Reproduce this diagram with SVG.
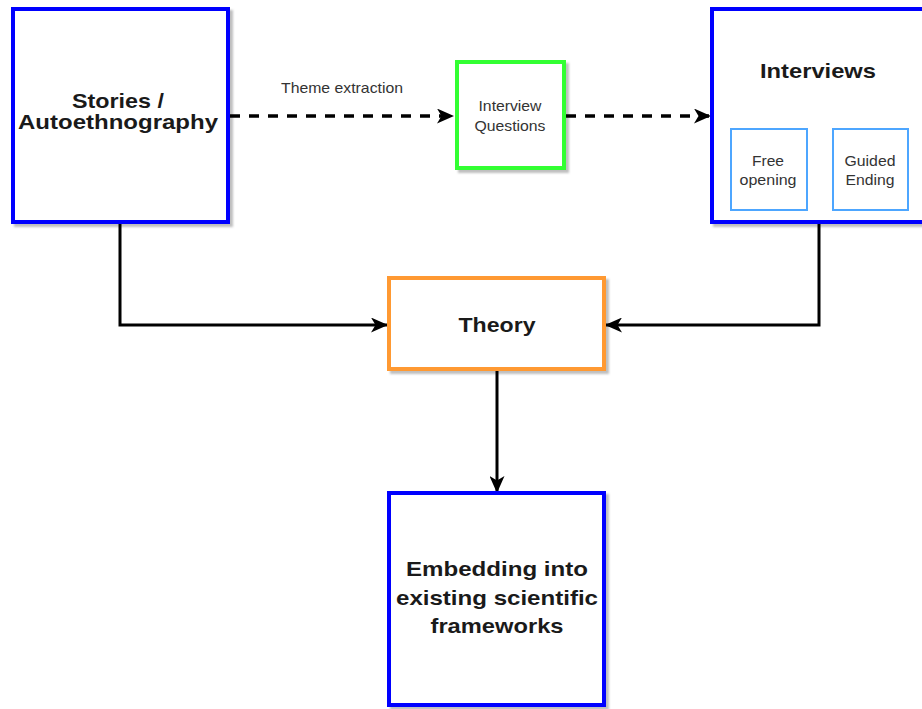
<svg xmlns="http://www.w3.org/2000/svg" width="922" height="709" viewBox="0 0 922 709">
<defs>
  <filter id="sh" x="-10%" y="-10%" width="130%" height="130%">
    <feDropShadow dx="3" dy="3" stdDeviation="1" flood-color="#000" flood-opacity="0.25"/>
  </filter>
  <marker id="arr2" viewBox="0 0 17 15" refX="16" refY="7.5" markerWidth="17" markerHeight="15" markerUnits="userSpaceOnUse" orient="auto">
    <path d="M0,0 L17,7.5 L0,15 L4.5,7.5 Z" fill="#000"/>
  </marker>
</defs>
<style>
  .box { fill: #fff; stroke-width: 4; filter: url(#sh); }
  .blue { stroke: #0000FF; }
  .green { stroke: #33FF33; }
  .orange { stroke: #FF9933; }
  .sub { fill: #fff; stroke: #4DA6FF; stroke-width: 2; }
  .big { font-family: "Liberation Sans", Arial, sans-serif; font-weight: bold; font-size: 21px; fill: #1a1a1a; text-anchor: middle; }
  .small { font-family: "Liberation Sans", Arial, sans-serif; font-size: 15px; fill: #333; text-anchor: middle; }
  .conn { fill: none; stroke: #000; stroke-width: 3; }
  .dash { stroke-width: 3.5; stroke-dasharray: 10 9; }
</style>

<g id="connectors">
  <path class="conn dash" d="M230,116 L453,116" marker-end="url(#arr2)"/>
  <path class="conn dash" d="M566,116 L710,116" marker-end="url(#arr2)"/>
  <path class="conn" d="M120,222 L120,325 L387,325" marker-end="url(#arr2)"/>
  <path class="conn" d="M819,222 L819,325 L606,325" marker-end="url(#arr2)"/>
  <path class="conn" d="M497,369 L497,492" marker-end="url(#arr2)"/>
  <text class="small" x="342" y="93" textLength="122" lengthAdjust="spacingAndGlyphs">Theme extraction</text>
</g>

<g id="stories">
  <rect class="box blue" x="13" y="9" width="215" height="213"/>
  <text class="big" x="118" y="108" textLength="92" lengthAdjust="spacingAndGlyphs">Stories /</text>
  <text class="big" x="118" y="129" textLength="200" lengthAdjust="spacingAndGlyphs">Autoethnography</text>
</g>

<g id="interview-questions">
  <rect class="box green" x="457" y="62" width="107" height="106"/>
  <text class="small" x="510" y="111" textLength="63" lengthAdjust="spacingAndGlyphs">Interview</text>
  <text class="small" x="510" y="131" textLength="71" lengthAdjust="spacingAndGlyphs">Questions</text>
</g>

<g id="interviews">
  <rect class="box blue" x="712" y="9" width="215" height="213"/>
  <text class="big" x="818" y="78" textLength="116" lengthAdjust="spacingAndGlyphs">Interviews</text>
  <g id="free-opening">
    <rect class="sub" x="731" y="129" width="76" height="81"/>
    <text class="small" x="768" y="166" textLength="32" lengthAdjust="spacingAndGlyphs">Free</text>
    <text class="small" x="768" y="185" textLength="57" lengthAdjust="spacingAndGlyphs">opening</text>
  </g>
  <g id="guided-ending">
    <rect class="sub" x="833" y="129" width="75" height="81"/>
    <text class="small" x="870" y="166" textLength="51" lengthAdjust="spacingAndGlyphs">Guided</text>
    <text class="small" x="870" y="185" textLength="49" lengthAdjust="spacingAndGlyphs">Ending</text>
  </g>
</g>

<g id="theory">
  <rect class="box orange" x="389" y="278" width="215" height="91"/>
  <text class="big" x="497" y="332" textLength="77" lengthAdjust="spacingAndGlyphs">Theory</text>
</g>

<g id="embedding">
  <rect class="box blue" x="389" y="493" width="215" height="212"/>
  <text class="big" x="497" y="576" textLength="182" lengthAdjust="spacingAndGlyphs">Embedding into</text>
  <text class="big" x="497" y="605" textLength="202" lengthAdjust="spacingAndGlyphs">existing scientific</text>
  <text class="big" x="497" y="633" textLength="133" lengthAdjust="spacingAndGlyphs">frameworks</text>
</g>
</svg>
